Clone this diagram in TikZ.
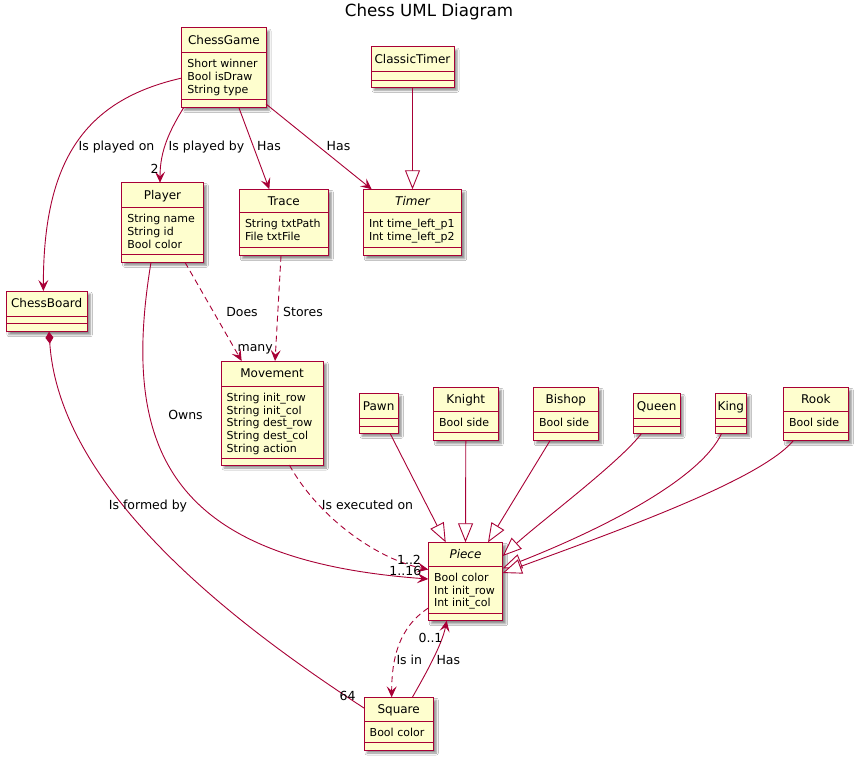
\documentclass[tikz,border=0pt]{standalone}
\usepackage{fontspec}
\setmainfont{DejaVu Sans}
\usetikzlibrary{arrows.meta,fit,shadows.blur}
\definecolor{umlred}{HTML}{A80036}
\definecolor{umlfill}{HTML}{FEFECE}
\tikzset{
  classbox/.style={draw=umlred, fill=umlfill, line width=1pt, inner sep=0pt, outer sep=0pt,
    blur shadow={shadow xshift=3pt, shadow yshift=-3pt, shadow blur radius=2pt, shadow opacity=45}},
  sepline/.style={draw=umlred, line width=1pt},
  cname/.style={anchor=base, inner sep=0pt, font=\fontsize{12}{14}\selectfont},
  attr/.style={anchor=north west, inner sep=0pt, align=left, font=\fontsize{11}{12.9}\selectfont},
  lbl/.style={anchor=base, inner sep=0pt, font=\fontsize{12.5}{15}\selectfont},
  uml/.style={draw=umlred, line width=0.9pt},
  assoc/.style={uml, -{Stealth[length=11pt,width=10pt,inset=4.5pt]}},
  dep/.style={assoc, dash pattern=on 6pt off 4pt},
  inh/.style={uml, -{Triangle[length=19pt,width=15pt,fill=white]}},
  comp/.style={uml, {Diamond[length=12pt,width=8pt]}-},
}
% name, left, top, right, bottom, sep1, sep2, title, attributes
\newcommand\umlclass[9]{%
  \node[classbox, fit={(#2,#3) (#4,#5)}] (#1) {};
  \draw[sepline] (#2,#6) -- (#4,#6) (#2,#7) -- (#4,#7);
  \node[cname] (#1-t) at ({(#2+#4)/2},{(#3+#6)/2+4.4}) {#8};
  \node[attr] (#1-a) at ({#2+5.5},{#6+6.6}) {#9};
}
\begin{document}
\begin{tikzpicture}[x=1pt,y=-1pt]
\fill[white] (0,0) rectangle (858,760);
\useasboundingbox (0,0) rectangle (858,760);

\node[anchor=base, inner sep=0pt, font=\fontsize{16.7}{20}\selectfont] (title) at (429,17) {Chess UML Diagram};

\umlclass{chessgame}{181.7}{28}{266}{107.3}{52.3}{99.3}{ChessGame}{Short winner\\Bool isDraw\\String type}
\umlclass{classictimer}{371}{47}{454}{87.3}{71.7}{80}{ClassicTimer}{}
\umlclass{player}{121.7}{182.7}{203.3}{262.3}{207.3}{254}{Player}{String name\\String id\\Bool color}
\umlclass{trace}{239.3}{189.3}{328.3}{255.7}{212.7}{247.3}{Trace}{String txtPath\\File txtFile}
\umlclass{timer}{363.3}{189.3}{461.7}{255.7}{212.7}{247.3}{\itshape Timer}{Int time\_left\_p1\\Int time\_left\_p2}
\umlclass{chessboard}{6}{291}{87.3}{331.7}{316}{323.3}{ChessBoard}{}
\umlclass{movement}{221}{361}{323.3}{465}{386}{458.3}{Movement}{String init\_row\\String init\_col\\String dest\_row\\String dest\_col\\String action}
\umlclass{pawn}{359}{393.3}{398.3}{433.3}{418.3}{426}{Pawn}{}
\umlclass{knight}{433.3}{387.3}{498.3}{440.7}{411.7}{432.7}{Knight}{Bool side}
\umlclass{bishop}{533.3}{387.3}{598.3}{440.7}{411.7}{432.7}{Bishop}{Bool side}
\umlclass{queen}{633.3}{393.3}{680}{433.3}{418.3}{426}{Queen}{}
\umlclass{king}{715}{393.3}{746.7}{433.3}{418.3}{426}{King}{}
\umlclass{rook}{783.3}{387.3}{848.3}{440.7}{411.7}{432.7}{Rook}{Bool side}
\umlclass{piece}{428.3}{542.3}{502.7}{620.7}{566}{613.3}{\itshape Piece}{Bool color\\Int init\_row\\Int init\_col}
\umlclass{square}{364}{697.3}{433.3}{750}{721.7}{742.3}{Square}{Bool color}

% connectors
\draw[assoc] ([yshift=-10.4pt]chessgame.west) .. controls (85,100) and (43.3,160) .. ([xshift=-3.3pt]chessboard.north);
\draw[assoc] ([xshift=-40pt]chessgame.south) .. controls (170,130) and (160,150) .. ([xshift=-2.5pt]player.north);
\draw[assoc] ([xshift=14.9pt]chessgame.south) -- ([xshift=-14.5pt]trace.north);
\draw[assoc] ([yshift=3.3pt]chessgame.south east) -- ([xshift=-40.8pt]timer.north);
\draw[inh] (classictimer.south) -- (timer.north);
\draw[dep] ([xshift=22.5pt]player.south) -- ([xshift=-30.5pt]movement.north);
\draw[dep] ([xshift=-2.8pt]trace.south) -- ([xshift=2.9pt]movement.north);
\draw[assoc] ([xshift=-11.5pt]player.south) .. controls (120,450) and (170,560) .. ([yshift=2.5pt]piece.west);
\draw[dep] ([xshift=17.2pt]movement.south) .. controls (320,520) and (380,560) .. ([yshift=12pt]piece.west);
\draw[comp] ([xshift=2.4pt]chessboard.south) .. controls (60,500) and (260,640) .. ([yshift=15.6pt]square.west);
\draw[dep] ([yshift=12.7pt]piece.south west) .. controls (398,628) and (391.7,660) .. ([xshift=-7pt]square.north);
\draw[assoc] ([xshift=13.7pt]square.north) .. controls (425,675) and (442,645) .. ([xshift=-18.8pt]piece.south);

\draw[inh] ([xshift=11.35pt]pawn.south) -- ([xshift=-19.8pt]piece.north);
\draw[inh] (knight.south) -- (piece.north);
\draw[inh] ([xshift=-15.8pt]bishop.south) -- ([xshift=22.5pt]piece.north);
\draw[inh] ([xshift=-15pt]queen.south) .. controls (620,462) and (540,522) .. ([yshift=-13.7pt]piece.north east);
\draw[inh] ([xshift=-9.15pt]king.south) .. controls (700,480) and (600,530) .. ([yshift=-26pt]piece.north east);
\draw[inh] ([xshift=-22.5pt]rook.south) .. controls (760,480) and (620,530) .. ([yshift=-30.7pt]piece.north east);

% labels
\node[lbl] (l-playedon) at (116.5,150.2) {Is played on};
\node[lbl] (l-playedby) at (206.5,150.2) {Is played by};
\node[lbl] (l-has1) at (269,150.2) {Has};
\node[lbl] (l-has2) at (338.5,150.2) {Has};
\node[lbl] (m-2) at (154.7,173) {2};
\node[lbl] (l-does) at (242,316.5) {Does};
\node[lbl] (l-stores) at (303,316.5) {Stores};
\node[lbl] (m-many) at (255.2,351) {many};
\node[lbl] (l-owns) at (185.5,419.5) {Owns};
\node[lbl] (l-exec) at (367.5,509.5) {Is executed on};
\node[lbl] (l-formed) at (148,509.5) {Is formed by};
\node[lbl] (m-12) at (409,564) {1..2};
\node[lbl] (m-116) at (405.3,575.3) {1..16};
\node[lbl] (m-64) at (347.5,700) {64};
\node[lbl] (m-01) at (430.5,642.3) {0..1};
\node[lbl] (l-isin) at (409.3,664) {Is in};
\node[lbl] (l-has3) at (448.3,664) {Has};
\end{tikzpicture}
\end{document}
